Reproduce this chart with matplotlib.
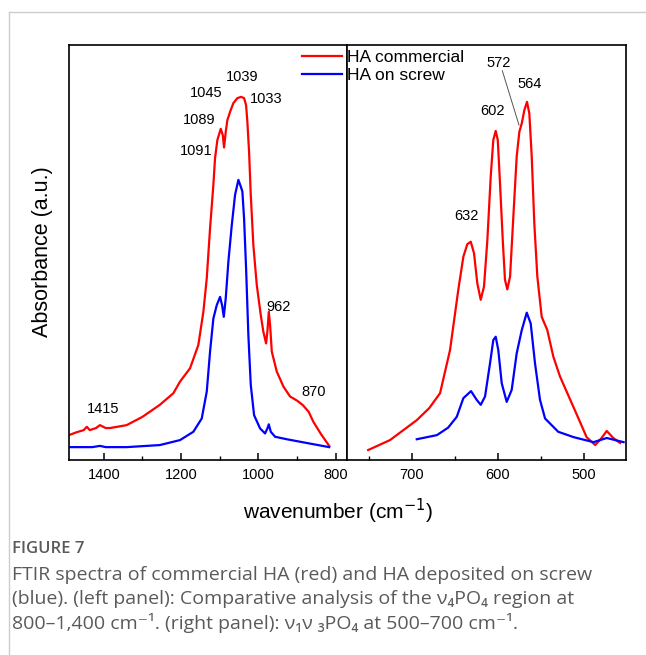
"""FTIR spectra of commercial HA and HA deposited on a screw (two-panel, broken x axis)."""

import matplotlib
matplotlib.use("Agg")
import matplotlib.pyplot as plt
from matplotlib.lines import Line2D
from matplotlib.ticker import MultipleLocator

plt.rcParams["font.family"] = ["Liberation Sans", "DejaVu Sans"]

# ---- data (wavenumber cm-1, absorbance a.u.) ----
left_red_wn = [1490, 1470, 1452, 1444, 1436, 1420, 1410, 1395, 1384, 1341, 1300, 1255, 1220,
               1202.8, 1177.0, 1155.5, 1142.5, 1133.7, 1125.2, 1116.6, 1112.3, 1106.3, 1097.5,
               1092.3, 1089.0, 1084.6, 1080.4, 1073.4, 1064.9, 1054.5, 1045.0, 1037.2, 1032.0,
               1028.7, 1024.3, 1019.9, 1013.2, 1004.4, 994.0, 987.3, 980.3, 976.9, 973.3, 969.9,
               965.5, 952.6, 935.5, 918.2, 900, 885, 870, 858, 838, 817]
left_red_abs = [0.060, 0.067, 0.072, 0.080, 0.072, 0.077, 0.084, 0.077, 0.077, 0.084, 0.104,
                0.133, 0.161, 0.189, 0.221, 0.277, 0.357, 0.438, 0.558, 0.663, 0.727, 0.771,
                0.798, 0.783, 0.753, 0.791, 0.819, 0.839, 0.860, 0.872, 0.875, 0.872, 0.855,
                0.815, 0.743, 0.639, 0.518, 0.422, 0.349, 0.309, 0.281, 0.309, 0.357, 0.325,
                0.261, 0.213, 0.177, 0.153, 0.143, 0.132, 0.116, 0.092, 0.062, 0.034]

left_blue_wn = [1490, 1430, 1410, 1395, 1341, 1255, 1202.8, 1168.4, 1146.7, 1133.7, 1125.2,
                1116.6, 1107.9, 1099.3, 1094.1, 1089.7, 1084.6, 1077.8, 1069.0, 1060.5, 1051.9,
                1045.8, 1041.6, 1037.2, 1032.0, 1026.1, 1019.9, 1011.3, 995.8, 982.9, 976.9,
                973.3, 968.1, 957.0, 926.7, 875, 817]
left_blue_abs = [0.031, 0.031, 0.034, 0.031, 0.031, 0.036, 0.048, 0.068, 0.100, 0.165, 0.261,
                 0.341, 0.373, 0.393, 0.373, 0.345, 0.390, 0.478, 0.566, 0.639, 0.675, 0.659,
                 0.647, 0.582, 0.462, 0.301, 0.181, 0.108, 0.076, 0.064, 0.076, 0.086, 0.068,
                 0.056, 0.050, 0.041, 0.031]

right_red_wn = [751, 725.6, 694.5, 680, 667.4, 655.8, 646.2, 640.3, 635.7, 631.7, 627.9, 624.1,
                620.1, 616.3, 612.4, 608.5, 605.5, 602.7, 600.3, 597.7, 594.5, 591.9, 589.2,
                586.0, 582.2, 578.3, 575.2, 572.4, 569.4, 566.3, 563.6, 560.8, 557.8, 554.3,
                549.2, 542.7, 535.7, 527.9, 516, 506, 497, 487, 480, 473.6, 466, 458]
right_red_abs = [0.024, 0.048, 0.096, 0.125, 0.161, 0.265, 0.410, 0.490, 0.520, 0.526, 0.498,
                 0.426, 0.386, 0.418, 0.530, 0.683, 0.771, 0.793, 0.771, 0.667, 0.530, 0.434,
                 0.411, 0.442, 0.586, 0.731, 0.791, 0.811, 0.843, 0.863, 0.835, 0.731, 0.570,
                 0.442, 0.345, 0.313, 0.249, 0.201, 0.145, 0.098, 0.055, 0.036, 0.052, 0.070,
                 0.053, 0.041]

right_blue_wn = [694.5, 671, 658, 648.0, 640.3, 631.4, 624.8, 620.1, 615.1, 609.3, 605.5, 602.7,
                 599.7, 595.7, 589.9, 584.1, 578.3, 572.4, 566.6, 562.0, 557.0, 551.2, 545.3,
                 530, 512, 489, 473.6, 454]
right_blue_abs = [0.050, 0.060, 0.078, 0.104, 0.149, 0.166, 0.145, 0.133, 0.153, 0.233, 0.289,
                  0.297, 0.265, 0.185, 0.140, 0.169, 0.257, 0.313, 0.355, 0.329, 0.233, 0.145,
                  0.100, 0.068, 0.055, 0.043, 0.053, 0.043]

series_labels = ["HA commercial", "HA on screw"]
series_colors = ["#ff0000", "#0000ff"]

left_peak_labels = ["1045", "1039", "1033", "1089", "1091", "962", "870", "1415"]
left_peak_wn = [1136, 1043, 980, 1153, 1162, 948, 858, 1403]
left_peak_abs = [0.885, 0.922, 0.869, 0.819, 0.745, 0.369, 0.163, 0.122]

right_peak_labels = ["572", "564", "602", "632"]
right_peak_wn = [599.7, 563.6, 606.6, 637.2]
right_peak_abs = [0.957, 0.906, 0.841, 0.588]

W, H = 646, 655
fig = plt.figure(figsize=(W / 100, H / 100), dpi=100)


def rect(x0, y0, x1, y1):
    return [x0 / W, 1 - y1 / H, (x1 - x0) / W, (y1 - y0) / H]


ax_l = fig.add_axes(rect(69, 45, 347, 460))
ax_r = fig.add_axes(rect(347, 45, 626, 460))

for ax, wn_red, ab_red, wn_blue, ab_blue in (
    (ax_l, left_red_wn, left_red_abs, left_blue_wn, left_blue_abs),
    (ax_r, right_red_wn, right_red_abs, right_blue_wn, right_blue_abs),
):
    ax.plot(wn_red, ab_red, color=series_colors[0], lw=1.6, solid_joinstyle="round")
    ax.plot(wn_blue, ab_blue, color=series_colors[1], lw=1.6, solid_joinstyle="round")

ax_l.set_xlim(1490, 771)
ax_r.set_xlim(775.6, 451.2)
for ax in (ax_l, ax_r):
    ax.set_ylim(0, 1)
    ax.set_yticks([])
    for sp in ax.spines.values():
        sp.set_linewidth(1.2)
    ax.tick_params(axis="x", which="both", direction="in", labelsize=10.5, pad=6)
    ax.tick_params(axis="x", which="major", length=5, width=1.1)
    ax.tick_params(axis="x", which="minor", length=3, width=1.0)

ax_l.xaxis.set_major_locator(MultipleLocator(200))
ax_l.xaxis.set_minor_locator(MultipleLocator(100))
ax_r.xaxis.set_major_locator(MultipleLocator(100))
ax_r.xaxis.set_minor_locator(MultipleLocator(50))

for txt, x, y in zip(left_peak_labels, left_peak_wn, left_peak_abs):
    ax_l.text(x, y, txt, fontsize=10.5, ha="center", va="center")
for txt, x, y in zip(right_peak_labels, right_peak_wn, right_peak_abs):
    ax_r.text(x, y, txt, fontsize=10.5, ha="center", va="center")
ax_r.plot([595, 575.6], [0.938, 0.807], color="#555555", lw=0.7)

handles = [Line2D([], [], color=c, lw=1.6) for c in series_colors]
fig.legend(handles, series_labels, loc="upper left", bbox_to_anchor=(302 / W, 1 - 50 / H),
           frameon=False, fontsize=12.5, handlelength=2.3, handletextpad=0.3,
           labelspacing=0.15, borderpad=0, borderaxespad=0)

fig.text(338 / W, 1 - 511 / H, "wavenumber (cm$^{-1}$)", fontsize=15, ha="center", va="center")
fig.text(43 / W, 1 - 252 / H, "Absorbance (a.u.)", fontsize=15.5, rotation=90,
         ha="center", va="center")

# page frame lines
fig.add_artist(Line2D([9 / W, 9 / W], [0, 1 - 12 / H], color="#cccccc", lw=1))
fig.add_artist(Line2D([9 / W, 1], [1 - 12 / H, 1 - 12 / H], color="#cccccc", lw=1))

cap_font = ["Open Sans", "DejaVu Sans"]
cap_color = "#5a5a5a"
fig.text(12 / W, 1 - 549 / H, "FIGURE 7", fontsize=12, color=cap_color, family=cap_font,
         va="center", weight="semibold")
caption_lines = [
    "FTIR spectra of commercial HA (red) and HA deposited on screw",
    "(blue). (left panel): Comparative analysis of the \u03bd\u2084PO\u2084 region at",
    "800\u20131,400 cm\u207b\u00b9. (right panel): \u03bd\u2081\u03bd \u2083PO\u2084 at 500\u2013700 cm\u207b\u00b9.",
]
for i, line in enumerate(caption_lines):
    fig.text(12 / W, 1 - (575 + 24 * i) / H, line, fontsize=14, color=cap_color,
             family=cap_font, va="center")

fig.savefig("out.png", dpi=100)
